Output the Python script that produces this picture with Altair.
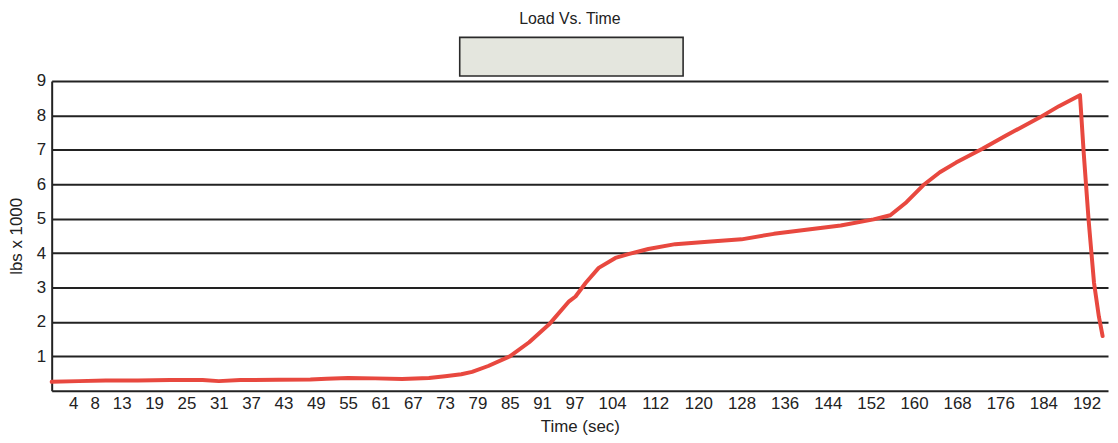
import altair as alt
import pandas as pd

# Load vs time (time in seconds, load in lbs x 1000)
time_sec = [0, 5, 10, 16, 22, 28, 31, 35, 42, 48, 51, 55, 60, 65, 70, 73, 76, 78, 81,
            85, 88.6, 92.3, 96, 97.2, 99.1, 101.5, 104.6, 107, 110.7, 115.7, 121.7,
            128, 134, 140, 146.4, 152.5, 155.6, 158.6, 161.7, 164.8, 167.8, 172.7,
            177, 183.2, 186.9, 190.8, 191.5, 192.4, 193.4, 194.3, 195]
load_klbs = [0.26, 0.28, 0.30, 0.30, 0.31, 0.31, 0.28, 0.31, 0.32, 0.33, 0.35, 0.37,
             0.36, 0.34, 0.37, 0.42, 0.48, 0.55, 0.72, 1.00, 1.41, 1.93, 2.60, 2.74,
             3.14, 3.57, 3.86, 3.97, 4.12, 4.26, 4.33, 4.40, 4.56, 4.68, 4.80, 4.98,
             5.10, 5.48, 5.97, 6.35, 6.63, 7.03, 7.41, 7.93, 8.27, 8.59, 6.89, 4.96,
             3.14, 2.16, 1.59]

x_ticks = [4, 8, 13, 19, 25, 31, 37, 43, 49, 55, 61, 67, 73, 79, 85, 91, 97, 104,
           112, 120, 128, 136, 144, 152, 160, 168, 176, 184, 192]
y_ticks = [1, 2, 3, 4, 5, 6, 7, 8, 9]

df = pd.DataFrame({"t": time_sec, "v": load_klbs})
box_df = pd.DataFrame({"k": [0]})

FONT = "Liberation Sans"
INK = "#222222"

line = alt.Chart(df).mark_line(
    color="#e8483f", strokeWidth=4, strokeCap="round", strokeJoin="round"
).encode(
    x=alt.X("t:Q",
            scale=alt.Scale(domain=[0, 196], nice=False, zero=False),
            axis=alt.Axis(values=x_ticks, title="Time (sec)", grid=False, ticks=False,
                          labelPadding=5, labelFontSize=17, titleFontSize=17,
                          titleFontWeight="normal", labelColor=INK, titleColor=INK,
                          domainColor=INK, domainWidth=2, labelFlush=False,
                          labelOverlap=False, titlePadding=7)),
    y=alt.Y("v:Q",
            scale=alt.Scale(domain=[0, 9], nice=False),
            axis=alt.Axis(values=y_ticks, title="lbs x 1000", grid=True,
                          gridColor=INK, gridWidth=2, gridOpacity=1, ticks=False,
                          labelPadding=6, labelFontSize=17, titleFontSize=17,
                          titleFontWeight="normal", labelColor=INK, titleColor=INK,
                          domainColor=INK, domainWidth=2, titlePadding=11)),
)

legend_box = alt.Chart(box_df).mark_rect(
    fill="#e4e6de", stroke="#2a2a2a", strokeWidth=1.6
).encode(
    x=alt.value(411), x2=alt.value(636), y=alt.value(-44), y2=alt.value(-5)
)

chart = alt.layer(legend_box, line).properties(
    width=1064,
    height=312,
    title=alt.TitleParams("Load Vs. Time", fontSize=16, fontWeight="normal",
                          color=INK, anchor="middle", dx=-10, offset=10),
    autosize=alt.AutoSizeParams(type="none"),
    padding={"left": 44, "top": 72, "right": 2, "bottom": 44},
).configure(font=FONT).configure_view(stroke=None)

chart.save("out.html", embed_options={"renderer": "svg", "actions": False})
